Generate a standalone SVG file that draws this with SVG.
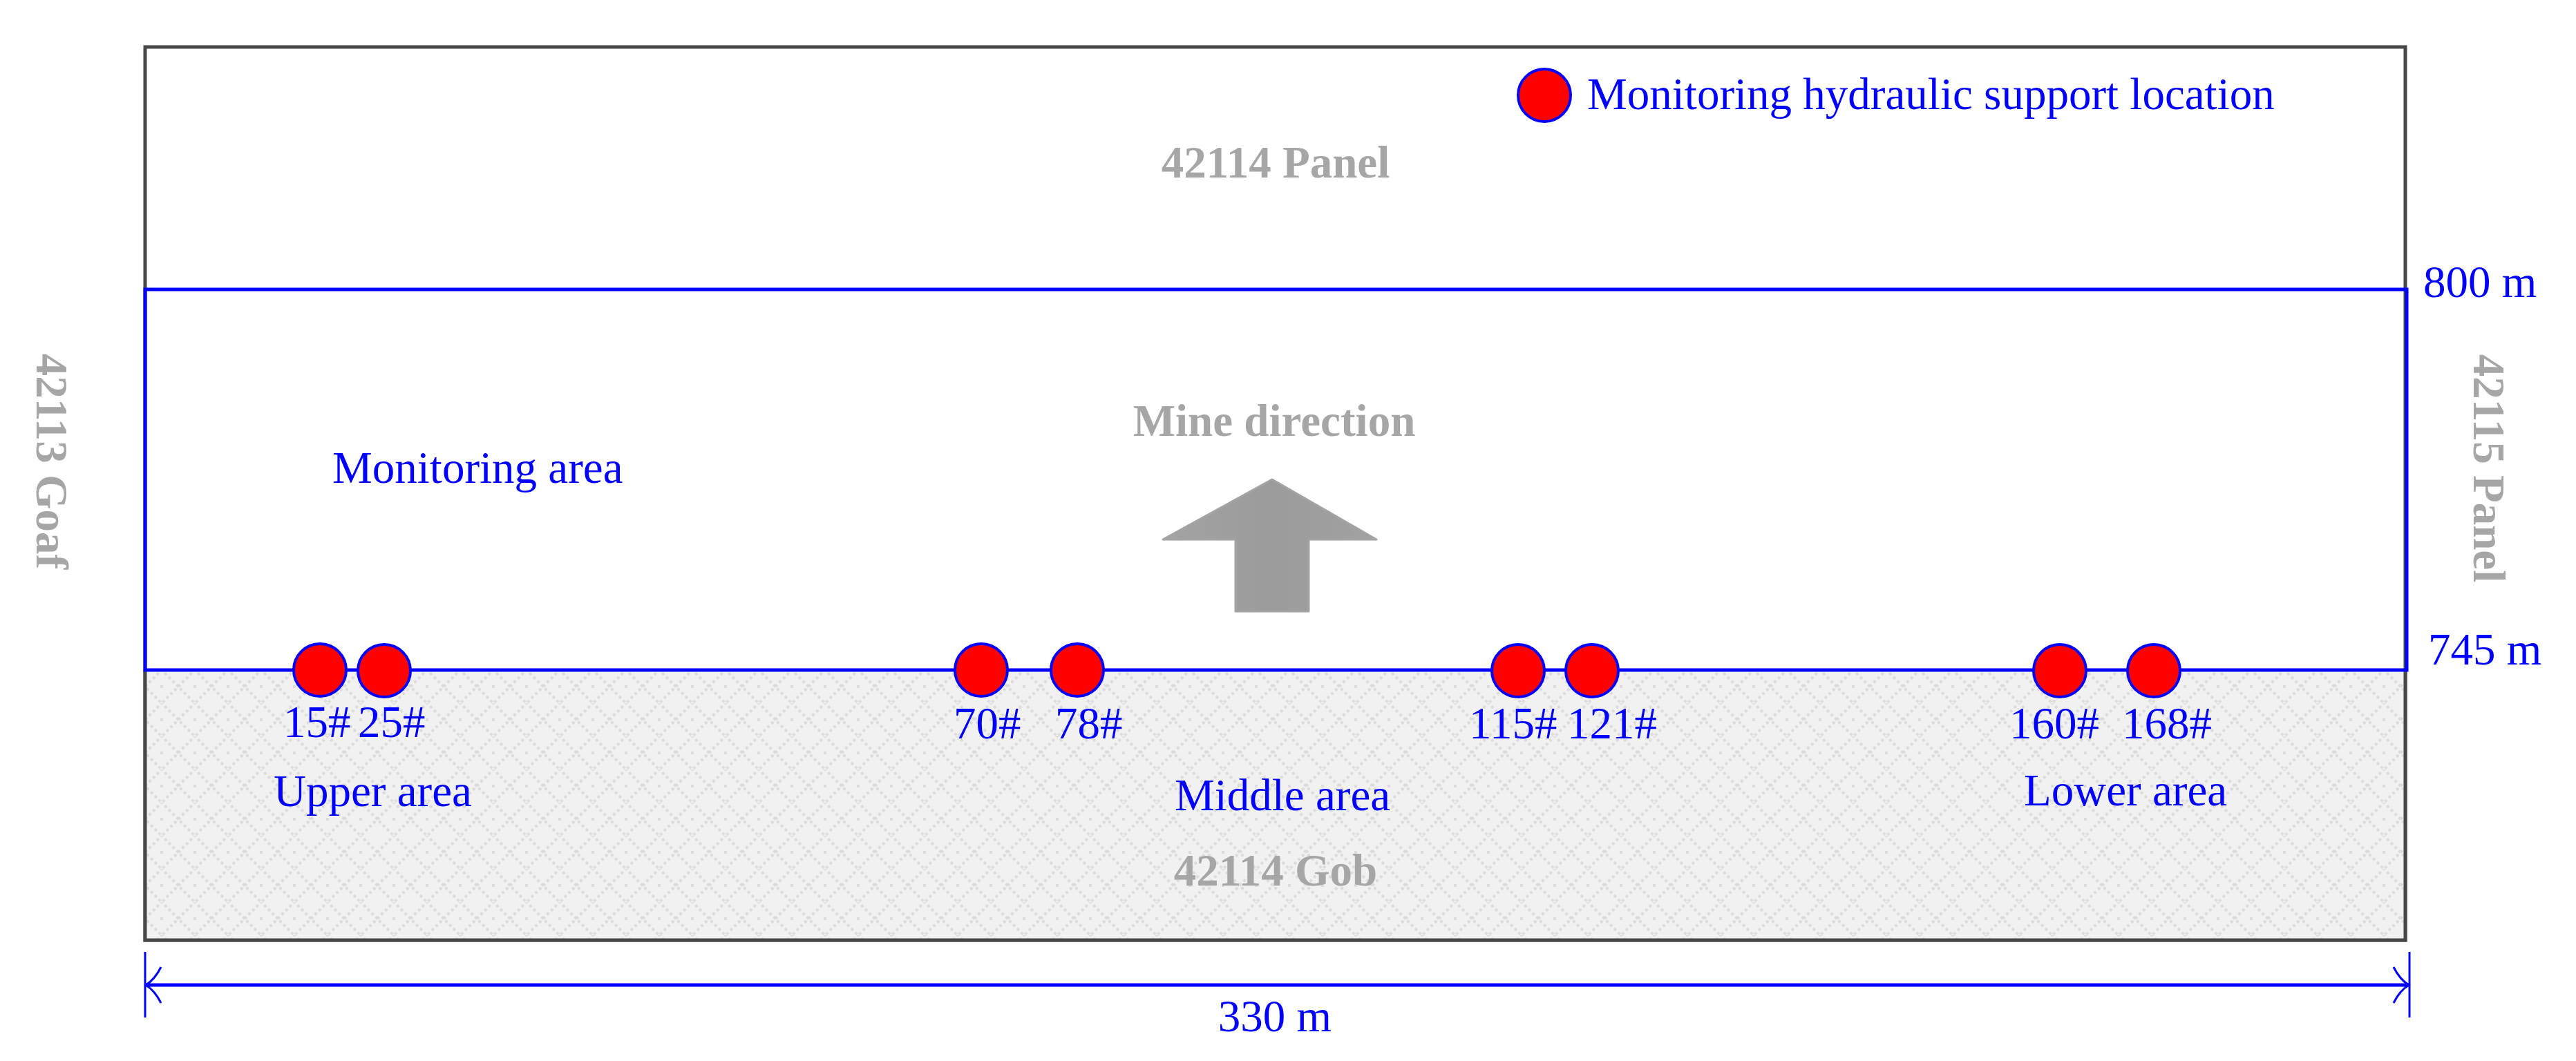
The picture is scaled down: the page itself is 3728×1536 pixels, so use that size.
<svg xmlns="http://www.w3.org/2000/svg" width="3728" height="1536" viewBox="0 0 3728 1536">
  <defs>
    <pattern id="gobHatch" x="210" y="970" width="48" height="48" patternUnits="userSpaceOnUse">
      <rect width="48" height="48" fill="#f1f1f1"/>
      <path d="M0,24 L24,0 L48,24 L24,48 Z" fill="none" stroke="#dcdcdc" stroke-width="4" stroke-dasharray="4 4"/>
      <rect x="22" y="22" width="4" height="4" fill="#dcdcdc"/>
    </pattern>
    <linearGradient id="arrowFill" x1="0" y1="0" x2="1" y2="0">
      <stop offset="0" stop-color="#a3a3a3"/>
      <stop offset="0.5" stop-color="#9b9b9b"/>
      <stop offset="1" stop-color="#a1a1a1"/>
    </linearGradient>
  </defs>
  <style>
    .serif { font-family: "Liberation Serif", "Times New Roman", serif; }
    .blue { fill: #0000ff; font-size: 65px; }
    .gray { fill: #a6a6a6; font-size: 65px; font-weight: bold; }
    .support { fill: #ff0000; stroke: #0000ff; stroke-width: 4; }
    .frame { fill: none; stroke: #474747; stroke-width: 5; }
    .bline { fill: none; stroke: #0000ff; stroke-width: 5; }
    .dim { fill: none; stroke: #0000ff; }
  </style>
  <rect width="3728" height="1536" fill="#ffffff"/>

  <g id="panel-42114">
    <rect class="frame" x="210" y="68" width="3271" height="1293" fill="#ffffff"/>
    <text class="serif gray" x="1846" y="257" text-anchor="middle">42114 Panel</text>
  </g>

  <g id="gob-42114">
    <rect x="210" y="970" width="3271" height="391" fill="url(#gobHatch)"/>
    <path class="frame" d="M210,970 L210,1361 L3481,1361 L3481,970"/>
    <text class="serif gray" x="1846" y="1282" text-anchor="middle">42114 Gob</text>
  </g>

  <g id="monitoring-area">
    <rect class="bline" x="210" y="419" width="3273" height="551"/>
    <text class="serif blue" x="481" y="699">Monitoring area</text>
  </g>

  <g id="mine-direction">
    <polygon points="1841,694 1992,781 1894,781 1894,885 1788,885 1788,781 1683,781" fill="url(#arrowFill)" stroke="#a3a3a3" stroke-width="3" stroke-linejoin="round"/>
    <text class="serif gray" x="1844" y="631" text-anchor="middle">Mine direction</text>
  </g>

  <g id="goaf-42113">
    <text class="serif gray" transform="translate(53,668) rotate(90)" text-anchor="middle">42113 Goaf</text>
  </g>

  <g id="panel-42115">
    <text class="serif gray" transform="translate(3580,678) rotate(90)" text-anchor="middle">42115 Panel</text>
  </g>

  <g id="legend">
    <circle class="support" cx="2235" cy="138" r="38"/>
    <text class="serif blue" x="2297" y="158">Monitoring hydraulic support location</text>
  </g>

  <g id="depth-labels">
    <text class="serif blue" x="3507" y="430">800 m</text>
    <text class="serif blue" x="3514" y="962">745 m</text>
  </g>

  <g id="support-15"><circle class="support" cx="463" cy="970" r="38"/><text class="serif blue" x="410" y="1067">15#</text></g>
  <g id="support-25"><circle class="support" cx="556" cy="971" r="38"/><text class="serif blue" x="518" y="1067">25#</text></g>
  <g id="support-70"><circle class="support" cx="1420" cy="970" r="38"/><text class="serif blue" x="1380" y="1069">70#</text></g>
  <g id="support-78"><circle class="support" cx="1559" cy="970" r="38"/><text class="serif blue" x="1527" y="1069">78#</text></g>
  <g id="support-115"><circle class="support" cx="2197" cy="971" r="38"/><text class="serif blue" x="2126" y="1069">115#</text></g>
  <g id="support-121"><circle class="support" cx="2304" cy="971" r="38"/><text class="serif blue" x="2268" y="1069">121#</text></g>
  <g id="support-160"><circle class="support" cx="2981" cy="971" r="38"/><text class="serif blue" x="2908" y="1069">160#</text></g>
  <g id="support-168"><circle class="support" cx="3117" cy="971" r="38"/><text class="serif blue" x="3071" y="1069">168#</text></g>

  <g id="area-labels">
    <text class="serif blue" x="396" y="1167">Upper area</text>
    <text class="serif blue" x="1856" y="1173" text-anchor="middle">Middle area</text>
    <text class="serif blue" x="2929" y="1166">Lower area</text>
  </g>

  <g id="connectors">
    <line class="dim" x1="210" y1="1378" x2="210" y2="1473" stroke-width="3"/>
    <line class="dim" x1="3487" y1="1378" x2="3487" y2="1473" stroke-width="3"/>
    <line class="dim" x1="211" y1="1426" x2="3486" y2="1426" stroke-width="5"/>
    <path class="dim" d="M233,1400 Q224,1418 211,1426 Q224,1434 233,1452" stroke-width="3"/>
    <path class="dim" d="M3464,1400 Q3473,1418 3486,1426 Q3473,1434 3464,1452" stroke-width="3"/>
    <text class="serif blue" x="1845" y="1493" text-anchor="middle">330 m</text>
  </g>
</svg>
